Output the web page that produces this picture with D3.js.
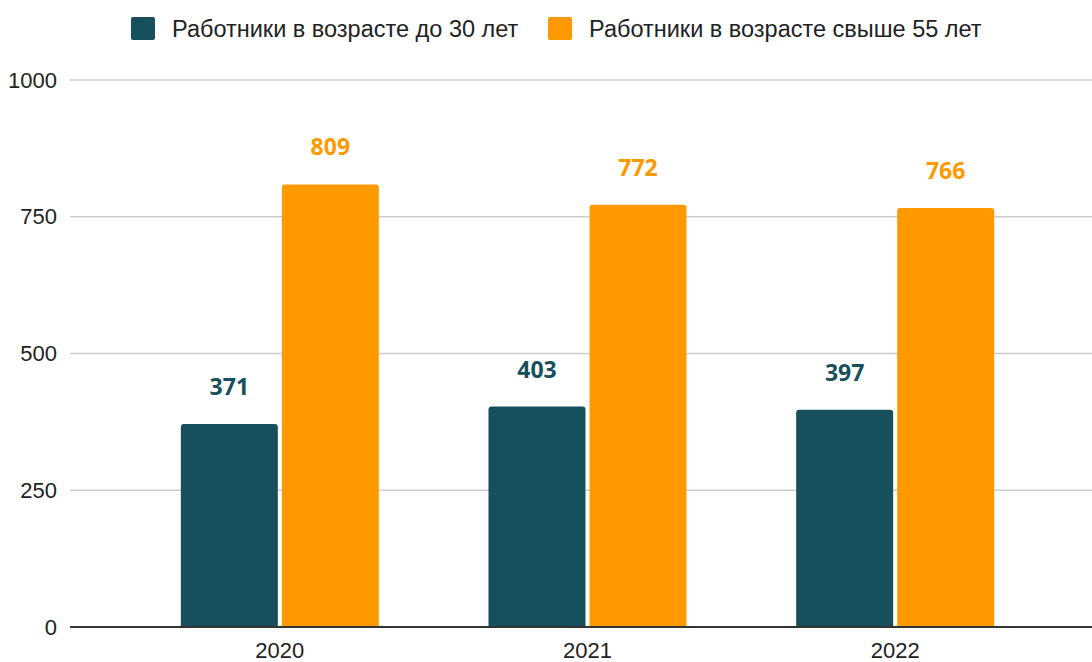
<!DOCTYPE html>
<html>
<head>
<meta charset="utf-8">
<script src="https://cdn.jsdelivr.net/npm/d3@7"></script>
<style>
  html, body { margin: 0; padding: 0; background: #fff; }
  svg { display: block; }
</style>
</head>
<body>
<svg id="chart" width="1092" height="662"></svg>
<script>
// Data
const years = ["2020", "2021", "2022"];
const seriesNames = ["Работники в возрасте до 30 лет", "Работники в возрасте свыше 55 лет"];
const under30 = [371, 403, 397];
const over55 = [809, 772, 766];
const yTicks = [0, 250, 500, 750, 1000];
const colors = ["#174f5c", "#ff9900"];

const svg = d3.select("#chart");
const plot = { left: 70, right: 1092, top: 80, bottom: 627 };

const y = d3.scaleLinear().domain([0, 1000]).range([plot.bottom, plot.top]);
const x = d3.scaleBand().domain(years).range([126, 1049]).paddingInner(0).paddingOuter(0);
const groupWidth = 198;
const xInner = d3.scaleBand().domain([0, 1]).range([0, groupWidth]).paddingInner(0.04);

// Gridlines
svg.append("g").selectAll("line").data(yTicks.filter(t => t !== 0)).join("line")
  .attr("x1", plot.left).attr("x2", plot.right)
  .attr("y1", d => y(d)).attr("y2", d => y(d))
  .attr("stroke", "#cccccc").attr("stroke-width", 1.5);

// Y labels
svg.append("g").selectAll("text").data(yTicks).join("text")
  .attr("x", 57).attr("y", d => y(d)).attr("dy", "0.35em")
  .attr("text-anchor", "end")
  .attr("font-family", "Liberation Sans, Arial, sans-serif")
  .attr("font-size", 22).attr("fill", "#222")
  .text(d => d);

// Bars with slightly rounded tops
function barPath(x0, w, yTop, yBase, r) {
  r = Math.min(r, (yBase - yTop));
  return `M${x0},${yBase} V${yTop + r} Q${x0},${yTop} ${x0 + r},${yTop} H${x0 + w - r} Q${x0 + w},${yTop} ${x0 + w},${yTop + r} V${yBase} Z`;
}

const seriesData = [under30, over55];
seriesData.forEach((vals, si) => {
  const g = svg.append("g");
  const bw = xInner.bandwidth();
  const bx = (i) => x(years[i]) + x.bandwidth() / 2 - groupWidth / 2 + xInner(si);
  g.selectAll("path").data(vals).join("path")
    .attr("d", (d, i) => barPath(bx(i), bw, y(d), y(0), 3))
    .attr("fill", colors[si]);
  g.selectAll("text").data(vals).join("text")
    .attr("x", (d, i) => bx(i) + bw / 2)
    .attr("y", d => y(d) - 29)
    .attr("text-anchor", "middle")
    .attr("font-family", "Open Sans, sans-serif")
    .attr("font-weight", 700)
    .attr("font-size", 23)
    .attr("fill", colors[si])
    .text(d => d);
});

// Baseline
svg.append("line")
  .attr("x1", plot.left).attr("x2", plot.right)
  .attr("y1", y(0)).attr("y2", y(0))
  .attr("stroke", "#333").attr("stroke-width", 2);

// X labels
svg.append("g").selectAll("text").data(years).join("text")
  .attr("x", d => x(d) + x.bandwidth() / 2)
  .attr("y", 658)
  .attr("text-anchor", "middle")
  .attr("font-family", "Liberation Sans, Arial, sans-serif")
  .attr("font-size", 22).attr("fill", "#222")
  .text(d => d);

// Legend
const legendX = [131, 548];
const lg = svg.append("g");
seriesNames.forEach((name, i) => {
  lg.append("rect")
    .attr("x", legendX[i]).attr("y", 17).attr("width", 24).attr("height", 23)
    .attr("rx", 2).attr("fill", colors[i]);
  lg.append("text")
    .attr("x", legendX[i] + 41).attr("y", 29).attr("dy", "0.35em")
    .attr("font-family", "Liberation Sans, Arial, sans-serif")
    .attr("font-size", 23.5).attr("fill", "#222")
    .text(name);
});
</script>
</body>
</html>
